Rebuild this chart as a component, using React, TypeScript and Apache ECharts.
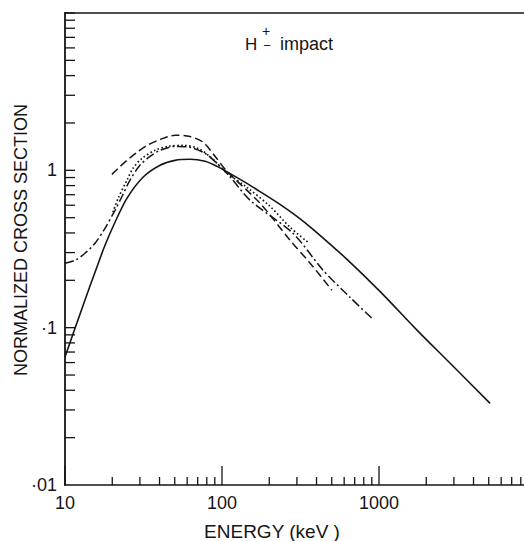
import React, { useEffect, useRef } from "react";
import * as echarts from "echarts";

// Solid curve
const solidE = [10, 11.58, 13.41, 15.53, 17.98, 20.82, 24.8, 31.4, 40.3, 50.2, 62.5, 78.0, 92.9, 112, 144, 182, 234, 300, 380, 625, 1014, 1745, 2830, 5100];
const solidS = [0.065, 0.099, 0.15, 0.225, 0.334, 0.468, 0.664, 0.903, 1.076, 1.157, 1.175, 1.141, 1.06, 0.957, 0.827, 0.714, 0.608, 0.51, 0.422, 0.272, 0.17, 0.0965, 0.0596, 0.033];

// Dash-dot curve (starts at 10 keV)
const dashDotE = [10, 11.58, 13.41, 15.53, 17.98, 20.82, 23.1, 25.9, 30.0, 34.8, 40.3, 50.2, 62.5, 78.0, 94.3, 112, 151, 283, 440, 653, 916];
const dashDotS = [0.257, 0.268, 0.297, 0.344, 0.428, 0.557, 0.684, 0.864, 1.076, 1.227, 1.34, 1.42, 1.4, 1.282, 1.092, 0.916, 0.645, 0.398, 0.232, 0.156, 0.113];

// Dashed curve (starts at 20 keV)
const dashedE = [19.9, 21.8, 24.8, 28.7, 33.3, 40.3, 50.2, 62.5, 75.7, 90.2, 107.6, 175, 271, 364, 501];
const dashedS = [0.943, 1.03, 1.157, 1.3, 1.44, 1.57, 1.67, 1.64, 1.51, 1.23, 0.985, 0.617, 0.36, 0.257, 0.173];

// Dotted curve
const dottedE = [20.2, 21.8, 24.8, 27.1, 30.9, 37.4, 45.3, 56.5, 70.3, 86.3, 106, 144, 202, 271, 353];
const dottedS = [0.541, 0.664, 0.864, 1.03, 1.19, 1.34, 1.42, 1.44, 1.38, 1.19, 0.971, 0.78, 0.591, 0.435, 0.349];

// Tick positions
const xMajorTicks = [10, 100, 1000, 10000];
const xMinorTicks = [20, 30, 40, 50, 60, 70, 80, 90, 200, 300, 400, 500, 600, 700, 800, 900, 2000, 3000, 4000, 5000, 6000, 7000, 8000, 9000];
const yTicks = [0.02, 0.03, 0.04, 0.05, 0.06, 0.07, 0.08, 0.09, 0.1, 0.2, 0.3, 0.4, 0.5, 0.6, 0.7, 0.8, 0.9, 1, 2, 3, 4, 5, 6, 7, 8, 9, 10];

// Tick labels
const xTickLabels: Record<number, string> = { 1: "10", 2: "100", 3: "1000" };
const yTickLabels: Record<number, string> = { [-2]: "·01", [-1]: "·1", 0: "1" };

const INK = "#151515";
const FONT = "Liberation Sans, Arial, sans-serif";

const zip = (a: number[], b: number[]) => a.map((v, i) => [v, b[i]]);

export default function App() {
  const ref = useRef<HTMLDivElement>(null);
  useEffect(() => {
    if (!ref.current) return;
    const chart = echarts.init(ref.current, undefined, { renderer: "svg" });
    const lineSeries = (data: number[][], type: any, width = 1.5) => ({
      type: "line",
      data,
      xAxisIndex: 0,
      yAxisIndex: 0,
      showSymbol: false,
      symbol: "none",
      smooth: 0.3,
      lineStyle: { color: INK, width, type, cap: "butt" },
      silent: true,
    });
    const tickSeries = (data: number[][], kind: "x" | "y") => ({
      type: "custom",
      xAxisIndex: 0,
      yAxisIndex: 0,
      silent: true,
      clip: false,
      z: 5,
      data,
      renderItem: (_p: any, api: any) => {
        const p = api.coord([api.value(0), api.value(1)]);
        const len = api.value(2);
        if (kind === "x") {
          return {
            type: "rect",
            shape: { x: p[0] - 0.65, y: p[1] - len, width: 1.3, height: len },
            style: { fill: INK },
          };
        }
        return {
          type: "rect",
          shape: { x: p[0], y: p[1] - 0.65, width: len, height: 1.3 },
          style: { fill: INK },
        };
      },
    });
    chart.setOption({
      animation: false,
      grid: { left: 65, top: 13, width: 471, height: 472, outerBoundsMode: "none", containLabel: false },
      xAxis: [
        {
          type: "log",
          logBase: 10,
          min: 10,
          max: 10000,
          axisLine: { show: true, lineStyle: { color: INK, width: 1.6 } },
          axisTick: { show: false },
          axisLabel: {
            color: INK,
            fontSize: 18,
            fontFamily: FONT,
            margin: 9,
            formatter: (v: number) => xTickLabels[Math.round(Math.log10(v))] ?? "",
          },
          splitLine: { show: false },
        },
        {
          type: "log",
          logBase: 10,
          min: 10,
          max: 10000,
          position: "top",
          axisLine: { show: true, lineStyle: { color: INK, width: 1.6 } },
          axisTick: { show: false },
          axisLabel: { show: false },
          splitLine: { show: false },
        },
      ],
      yAxis: {
        type: "log",
        logBase: 10,
        min: 0.01,
        max: 10,
        axisLine: { show: true, lineStyle: { color: INK, width: 1.8 } },
        axisTick: { show: false },
        axisLabel: {
          color: INK,
          fontSize: 18,
          fontFamily: FONT,
          margin: 8,
          formatter: (v: number) => yTickLabels[Math.round(Math.log10(v))] ?? "",
        },
        splitLine: { show: false },
      },
      graphic: [
        {
          type: "text",
          x: 21,
          y: 240,
          rotation: Math.PI / 2,
          style: {
            text: "NORMALIZED CROSS SECTION",
            fill: INK,
            fontSize: 18,
            fontFamily: FONT,
            align: "center",
            verticalAlign: "middle",
          },
        },
        {
          type: "text",
          x: 272,
          y: 531,
          style: {
            text: "ENERGY (keV )",
            fill: INK,
            fontSize: 19,
            fontFamily: FONT,
            align: "center",
            verticalAlign: "middle",
          },
        },
        {
          type: "text",
          x: 245,
          y: 44,
          style: { text: "H", fill: INK, fontSize: 17, fontFamily: FONT, verticalAlign: "middle" },
        },
        {
          type: "text",
          x: 266,
          y: 31,
          style: { text: "+", fill: INK, fontSize: 14, fontFamily: FONT, align: "center", verticalAlign: "middle" },
        },
        {
          type: "text",
          x: 267,
          y: 45,
          style: { text: "−", fill: INK, fontSize: 13, fontFamily: FONT, align: "center", verticalAlign: "middle" },
        },
        {
          type: "text",
          x: 280,
          y: 44,
          style: { text: "impact", fill: INK, fontSize: 18, fontFamily: FONT, verticalAlign: "middle" },
        },
      ],
      series: [
        lineSeries(zip(solidE, solidS), "solid", 1.6),
        lineSeries(zip(dashDotE, dashDotS), [9, 3, 2, 3], 1.5),
        lineSeries(zip(dashedE, dashedS), [8, 4], 1.5),
        lineSeries(zip(dottedE, dottedS), [1.6, 2.4], 1.7),
        tickSeries(
          [...xMajorTicks.map((v) => [v, 0.01, 19]), ...xMinorTicks.map((v) => [v, 0.01, 8])],
          "x"
        ),
        tickSeries(yTicks.map((v) => [10, v, 10]), "y"),
      ],
    });
    return () => chart.dispose();
  }, []);
  return <div ref={ref} style={{ width: 524, height: 541, position: "absolute", left: 0, top: 0 }} />;
}
